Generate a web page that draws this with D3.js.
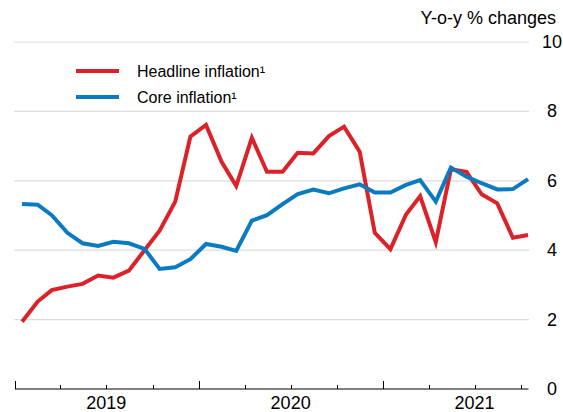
<!DOCTYPE html>
<html>
<head>
<meta charset="utf-8">
<script src="https://cdn.jsdelivr.net/npm/d3@7"></script>
<style>
  html, body { margin: 0; padding: 0; background: #fff; }
  svg { display: block; font-family: "Liberation Sans", Arial, sans-serif; }
</style>
</head>
<body>
<svg id="chart" width="563" height="412"></svg>
<script>
// Monthly observations, Jan 2019 – Oct 2021
const months = d3.range(34).map(i => new Date(2019, i, 15));
const headline = [1.94, 2.52, 2.85, 2.95, 3.03, 3.27, 3.21, 3.41, 4.0, 4.56, 5.4, 7.27,
                  7.61, 6.55, 5.85, 7.24, 6.26, 6.26, 6.81, 6.79, 7.29, 7.56, 6.84, 4.5,
                  4.03, 5.03, 5.56, 4.23, 6.33, 6.26, 5.61, 5.35, 4.36, 4.44];
const core = [5.33, 5.31, 5.01, 4.5, 4.2, 4.12, 4.24, 4.2, 4.04, 3.46, 3.51, 3.74,
              4.18, 4.1, 3.98, 4.85, 5.01, 5.33, 5.62, 5.75, 5.64, 5.78, 5.9, 5.66,
              5.66, 5.88, 6.02, 5.4, 6.38, 6.12, 5.93, 5.75, 5.76, 6.05];
const seriesNames = ["Headline inflation\u00B9", "Core inflation\u00B9"];
const seriesColors = ["#dc2129", "#0b7bc1"];
const yTicks = [0, 2, 4, 6, 8, 10];
const yearLabels = ["2019", "2020", "2021"];
const unitLabel = "Y-o-y % changes";

const svg = d3.select("#chart");

const x = d3.scaleTime()
  .domain([new Date(2019, 0, 1), new Date(2021, 9, 16)])
  .range([15, 528.5]);
const y = d3.scaleLinear().domain([0, 10]).range([389, 42]);

// gridlines
svg.append("g").selectAll("line")
  .data(yTicks.filter(d => d > 0))
  .join("line")
  .attr("x1", 14).attr("x2", 529)
  .attr("y1", d => y(d)).attr("y2", d => y(d))
  .attr("stroke", "#dcdcdc").attr("stroke-width", 1.2);

// right axis labels
svg.append("g").selectAll("text")
  .data(yTicks)
  .join("text")
  .attr("x", 552).attr("y", d => y(d))
  .attr("text-anchor", "middle")
  .attr("dominant-baseline", "central")
  .attr("font-size", 18).attr("fill", "#000")
  .text(d => d);

// unit label
svg.append("text")
  .attr("x", 556).attr("y", 24)
  .attr("text-anchor", "end")
  .attr("font-size", 18).attr("fill", "#000")
  .text(unitLabel);

// x axis
const xAxisG = svg.append("g").attr("transform", `translate(0,${y(0)})`);
xAxisG.append("line")
  .attr("x1", x.range()[0]).attr("x2", x.range()[1])
  .attr("stroke", "#000").attr("stroke-width", 1);
const quarters = d3.timeMonth.every(3).range(new Date(2019, 0, 1), new Date(2021, 11, 1));
xAxisG.selectAll("line.tick")
  .data(quarters)
  .join("line")
  .attr("class", "tick")
  .attr("x1", d => Math.round(x(d)) + 0.5).attr("x2", d => Math.round(x(d)) + 0.5)
  .attr("y1", d => d.getMonth() === 0 ? -8 : -4).attr("y2", 0)
  .attr("stroke", "#000").attr("stroke-width", 1);
xAxisG.selectAll("text")
  .data(yearLabels)
  .join("text")
  .attr("x", d => x(new Date(+d, 6, 1)))
  .attr("y", 20)
  .attr("text-anchor", "middle")
  .attr("font-size", 18).attr("fill", "#000")
  .text(d => d);

// lines
const line = d3.line()
  .x((d, i) => x(months[i]))
  .y(d => y(d));
[headline, core].forEach((s, k) => {
  svg.append("path")
    .datum(s)
    .attr("d", line)
    .attr("fill", "none")
    .attr("stroke", seriesColors[k])
    .attr("stroke-width", 4)
    .attr("stroke-linejoin", "miter")
    .attr("stroke-linecap", "butt");
});
// re-draw order: core on top? keep headline under core
// legend
const legend = svg.append("g");
seriesNames.forEach((name, k) => {
  const ly = 71 + k * 26;
  legend.append("line")
    .attr("x1", 76).attr("x2", 119)
    .attr("y1", ly).attr("y2", ly)
    .attr("stroke", seriesColors[k]).attr("stroke-width", 4);
  legend.append("text")
    .attr("x", 137).attr("y", ly)
    .attr("dominant-baseline", "central")
    .attr("font-size", 16).attr("fill", "#000")
    .text(name);
});
</script>
</body>
</html>
